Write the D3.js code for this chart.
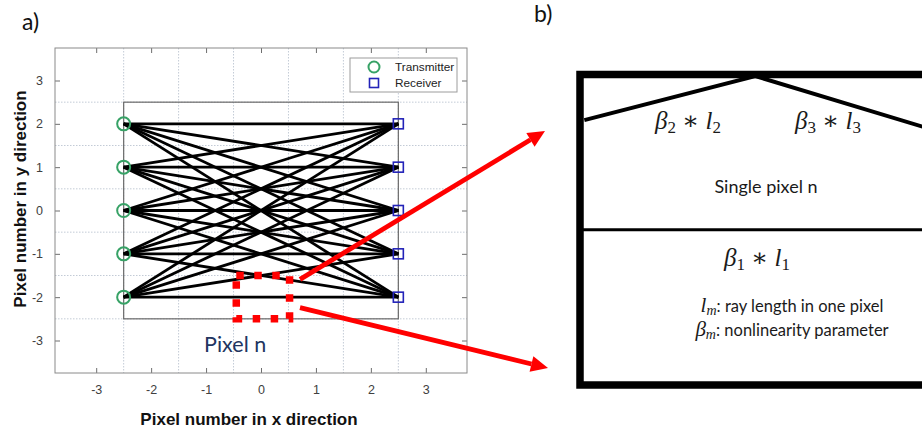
<!DOCTYPE html>
<html>
<head>
<meta charset="utf-8">
<script src="https://cdn.jsdelivr.net/npm/d3@7"></script>
<style>
  html, body { margin: 0; padding: 0; background: #fff; }
  svg { display: block; }
  .tick text { font-family: "Liberation Sans", Arial, sans-serif; font-size: 12.5px; fill: #404040; }
  .tick line { stroke: #6e6e6e; }
</style>
</head>
<body>
<svg id="chart" width="922" height="437"></svg>
<script>
// Sensor layout: transmitters on the left column, receivers on the right column
const transmitterX = -2.5;
const receiverX = 2.5;
const transmitterY = [-2, -1, 0, 1, 2];
const receiverY = [-2, -1, 0, 1, 2];

// Axis ticks and pixel-boundary grid
const xTicks = [-3, -2, -1, 0, 1, 2, 3];
const yTicks = [-3, -2, -1, 0, 1, 2, 3];
const gridLines = [-2.5, -1.5, -0.5, 0.5, 1.5, 2.5];
const domainLimits = [-3.75, 3.75];

// Imaging region and the highlighted pixel n
const regionBounds = { x0: -2.5, x1: 2.5, y0: -2.5, y1: 2.5 };
const pixelN = { x0: -0.45, x1: 0.52, y0: -2.5, y1: -1.5 };

// Legend entries
const legendItems = ["Transmitter", "Receiver"];

const svg = d3.select("#chart");

const x = d3.scaleLinear().domain(domainLimits).range([55, 467]);
const y = d3.scaleLinear().domain(domainLimits).range([373, 48]);

// ---------- panel a ----------
svg.append("text")
  .attr("x", 22).attr("y", 30)
  .attr("font-family", "Lato, sans-serif").attr("font-size", 23)
  .attr("fill", "#111").text("a)");

const plot = svg.append("g");

// dotted grid at pixel boundaries
plot.selectAll("line.gx").data(gridLines).join("line")
  .attr("class", "gx")
  .attr("x1", d => x(d)).attr("x2", d => x(d))
  .attr("y1", y(domainLimits[1])).attr("y2", y(domainLimits[0]))
  .attr("stroke", "#c3cbd6").attr("stroke-width", 1).attr("stroke-dasharray", "1.5,1.5");
plot.selectAll("line.gy").data(gridLines).join("line")
  .attr("class", "gy")
  .attr("y1", d => y(d)).attr("y2", d => y(d))
  .attr("x1", x(domainLimits[0])).attr("x2", x(domainLimits[1]))
  .attr("stroke", "#c3cbd6").attr("stroke-width", 1).attr("stroke-dasharray", "1.5,1.5");

// axes with inward ticks on all four sides
const fmt = d => String(d);
const axB = plot.append("g").attr("transform", `translate(0,${y(domainLimits[0])})`)
  .call(d3.axisBottom(x).tickValues(xTicks).tickSize(-5).tickPadding(12).tickFormat(fmt));
const axT = plot.append("g").attr("transform", `translate(0,${y(domainLimits[1])})`)
  .call(d3.axisTop(x).tickValues(xTicks).tickSize(-5).tickFormat(""));
const axL = plot.append("g").attr("transform", `translate(${x(domainLimits[0])},0)`)
  .call(d3.axisLeft(y).tickValues(yTicks).tickSize(-5).tickPadding(12).tickFormat(fmt));
const axR = plot.append("g").attr("transform", `translate(${x(domainLimits[1])},0)`)
  .call(d3.axisRight(y).tickValues(yTicks).tickSize(-5).tickFormat(""));
[axB, axT, axL, axR].forEach(a => a.select(".domain").remove());

// axes frame
plot.append("rect")
  .attr("x", x(domainLimits[0])).attr("y", y(domainLimits[1]))
  .attr("width", x(domainLimits[1]) - x(domainLimits[0]))
  .attr("height", y(domainLimits[0]) - y(domainLimits[1]))
  .attr("fill", "none").attr("stroke", "#8a8a8a").attr("stroke-width", 1);

// imaging region outline
plot.append("rect")
  .attr("x", x(regionBounds.x0)).attr("y", y(regionBounds.y1))
  .attr("width", x(regionBounds.x1) - x(regionBounds.x0))
  .attr("height", y(regionBounds.y0) - y(regionBounds.y1))
  .attr("fill", "none").attr("stroke", "#6a6a6a").attr("stroke-width", 1.2);

// rays: every transmitter to every receiver
const rays = [];
transmitterY.forEach(ty => receiverY.forEach(ry => rays.push({ ty, ry })));
plot.selectAll("line.ray").data(rays).join("line")
  .attr("class", "ray")
  .attr("x1", x(transmitterX)).attr("y1", d => y(d.ty))
  .attr("x2", x(receiverX)).attr("y2", d => y(d.ry))
  .attr("stroke", "#000").attr("stroke-width", 2.8);

// transmitters
plot.selectAll("circle.tx").data(transmitterY).join("circle")
  .attr("class", "tx")
  .attr("cx", x(transmitterX)).attr("cy", d => y(d)).attr("r", 6.5)
  .attr("fill", "none").attr("stroke", "#37a266").attr("stroke-width", 2);

// receivers
plot.selectAll("rect.rx").data(receiverY).join("rect")
  .attr("class", "rx")
  .attr("x", x(receiverX) - 5).attr("y", d => y(d) - 5)
  .attr("width", 10).attr("height", 10)
  .attr("fill", "none").attr("stroke", "#2323b8").attr("stroke-width", 1.6);

// legend
const lg = plot.append("g").attr("transform", "translate(350,58)");
lg.append("rect").attr("width", 107).attr("height", 34)
  .attr("fill", "#fff").attr("stroke", "#9c9c9c").attr("stroke-width", 1);
lg.append("circle").attr("cx", 24).attr("cy", 9).attr("r", 5.5)
  .attr("fill", "none").attr("stroke", "#37a266").attr("stroke-width", 2);
lg.append("rect").attr("x", 19.5).attr("y", 20.5).attr("width", 9).attr("height", 9)
  .attr("fill", "none").attr("stroke", "#2323b8").attr("stroke-width", 1.6);
lg.selectAll("text").data(legendItems).join("text")
  .attr("x", 45).attr("y", (d, i) => 13 + i * 16)
  .attr("font-family", "Liberation Sans, Arial, sans-serif").attr("font-size", 11.8)
  .attr("fill", "#222").text(d => d);

// highlighted pixel n
plot.append("rect")
  .attr("x", x(pixelN.x0)).attr("y", y(pixelN.y1))
  .attr("width", x(pixelN.x1) - x(pixelN.x0))
  .attr("height", y(pixelN.y0) - y(pixelN.y1))
  .attr("fill", "none").attr("stroke", "#ff0000").attr("stroke-width", 7.5)
  .attr("stroke-dasharray", "7.5,10.5");

plot.append("text")
  .attr("x", x(-0.47)).attr("y", 352)
  .attr("text-anchor", "middle")
  .attr("font-family", "Lato, sans-serif").attr("font-size", 21.5)
  .attr("fill", "#22355f").text("Pixel n");

// axis titles
svg.append("text")
  .attr("x", 249).attr("y", 425).attr("text-anchor", "middle")
  .attr("font-family", "Liberation Sans, Arial, sans-serif").attr("font-weight", "bold")
  .attr("font-size", 17).attr("fill", "#111").text("Pixel number in x direction");
svg.append("text")
  .attr("transform", "translate(26,199) rotate(-90)").attr("text-anchor", "middle")
  .attr("font-family", "Liberation Sans, Arial, sans-serif").attr("font-weight", "bold")
  .attr("font-size", 17).attr("fill", "#111").text("Pixel number in y direction");

// ---------- panel b ----------
svg.append("text")
  .attr("x", 534).attr("y", 22)
  .attr("font-family", "Lato, sans-serif").attr("font-size", 23)
  .attr("fill", "#111").text("b)");

// unit box for the single pixel, extending past the right edge
const bx = d3.scaleLinear().domain([0, 1]).range([580, 940]);
const by = d3.scaleLinear().domain([0, 1]).range([74.5, 385]);

const roof = [[0.012, 0.147], [0.487, 0.005], [1, 0.185]];
const dividerY = 0.5;

const pb = svg.append("g");
pb.append("line")
  .attr("x1", bx(0)).attr("x2", bx(1)).attr("y1", by(dividerY)).attr("y2", by(dividerY))
  .attr("stroke", "#000").attr("stroke-width", 3);
pb.append("path")
  .attr("d", d3.line().x(d => bx(d[0])).y(d => by(d[1]))(roof))
  .attr("fill", "none").attr("stroke", "#000").attr("stroke-width", 4);
pb.append("rect")
  .attr("x", bx(0)).attr("y", by(0)).attr("width", bx(1) - bx(0)).attr("height", by(1) - by(0))
  .attr("fill", "none").attr("stroke", "#000").attr("stroke-width", 7.5);

// ray-segment labels
const segLabels = [
  { i: "2", cx: 688, cy: 129 },
  { i: "3", cx: 828, cy: 129 },
  { i: "1", cx: 757, cy: 266 }
];
const serif = "Liberation Serif, 'DejaVu Serif', serif";
segLabels.forEach(s => {
  const t = pb.append("text").attr("x", s.cx).attr("y", s.cy)
    .attr("text-anchor", "middle").attr("font-family", serif)
    .attr("font-size", 25).attr("fill", "#1a1a1a");
  t.append("tspan").attr("font-style", "italic").text("β");
  t.append("tspan").attr("font-size", 17).attr("dy", 4).text(s.i);
  t.append("tspan").attr("dy", -4).text(" ∗ ");
  t.append("tspan").attr("font-style", "italic").text("l");
  t.append("tspan").attr("font-size", 17).attr("dy", 4).text(s.i);
});

pb.append("text").attr("x", 766).attr("y", 193).attr("text-anchor", "middle")
  .attr("font-family", "Lato, sans-serif").attr("font-size", 18).attr("fill", "#1a1a1a")
  .text("Single pixel n");

const defs = [
  { sym: "l", desc: ": ray length in one pixel", yb: 312 },
  { sym: "β", desc: ": nonlinearity parameter", yb: 336 }
];
defs.forEach(d => {
  const t = pb.append("text").attr("x", 792).attr("y", d.yb).attr("text-anchor", "middle")
    .attr("font-size", 16.5).attr("fill", "#1a1a1a");
  t.append("tspan").attr("font-family", serif).attr("font-style", "italic").attr("font-size", 21).text(d.sym);
  t.append("tspan").attr("font-family", serif).attr("font-style", "italic").attr("font-size", 14).attr("dy", 3).text("m");
  t.append("tspan").attr("font-family", "Lato, sans-serif").attr("dy", -3).text(d.desc);
});

// ---------- connecting arrows ----------
const arrows = [
  { from: [x(0.71), y(-1.59)], to: [545, 131] },
  { from: [x(0.71), y(-2.24)], to: [548, 368] }
];
const arrowG = svg.append("g");
arrows.forEach(a => {
  const [x0, y0] = a.from, [x1, y1] = a.to;
  const ang = Math.atan2(y1 - y0, x1 - x0);
  const headLen = 17, headHalf = 8;
  const bxp = x1 - headLen * Math.cos(ang), byp = y1 - headLen * Math.sin(ang);
  arrowG.append("line")
    .attr("x1", x0).attr("y1", y0).attr("x2", bxp).attr("y2", byp)
    .attr("stroke", "#ff0000").attr("stroke-width", 4.8);
  const px = -Math.sin(ang), py = Math.cos(ang);
  arrowG.append("path")
    .attr("d", `M${x1},${y1}L${bxp + px * headHalf},${byp + py * headHalf}L${bxp - px * headHalf},${byp - py * headHalf}Z`)
    .attr("fill", "#ff0000");
});
</script>
</body>
</html>
